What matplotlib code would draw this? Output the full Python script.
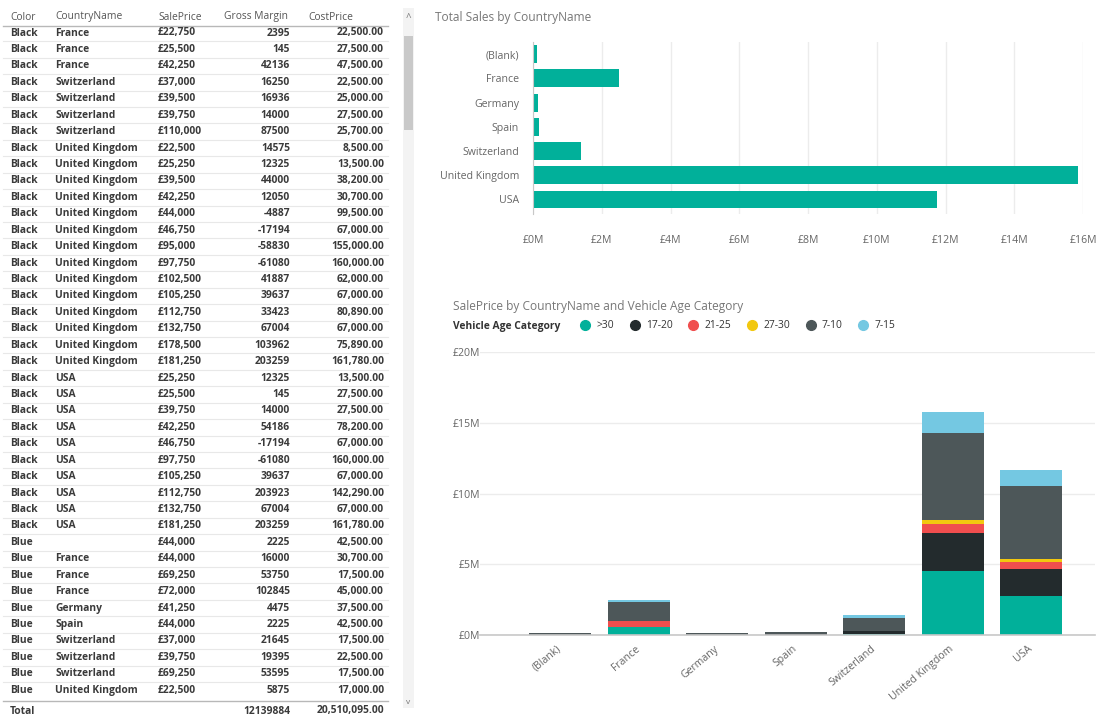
import matplotlib.pyplot as plt
from matplotlib.ticker import FuncFormatter

plt.rcParams['font.family'] = ['Open Sans', 'DejaVu Sans']

# table data
tbl_color = ['Black'] * 31 + ['Blue'] * 10
tbl_country = (['France'] * 3 + ['Switzerland'] * 4 + ['United Kingdom'] * 14 + ['USA'] * 10
               + ['', 'France', 'France', 'France', 'Germany', 'Spain',
                  'Switzerland', 'Switzerland', 'Switzerland', 'United Kingdom'])
tbl_sale = ['£22,750', '£25,500', '£42,250', '£37,000', '£39,500', '£39,750', '£110,000',
            '£22,500', '£25,250', '£39,500', '£42,250', '£44,000', '£46,750', '£95,000',
            '£97,750', '£102,500', '£105,250', '£112,750', '£132,750', '£178,500', '£181,250',
            '£25,250', '£25,500', '£39,750', '£42,250', '£46,750', '£97,750', '£105,250',
            '£112,750', '£132,750', '£181,250',
            '£44,000', '£44,000', '£69,250', '£72,000', '£41,250', '£44,000', '£37,000',
            '£39,750', '£69,250', '£22,500']
tbl_margin = ['2395', '145', '42136', '16250', '16936', '14000', '87500',
              '14575', '12325', '44000', '12050', '-4887', '-17194', '-58830',
              '-61080', '41887', '39637', '33423', '67004', '103962', '203259',
              '12325', '145', '14000', '54186', '-17194', '-61080', '39637',
              '203923', '67004', '203259',
              '2225', '16000', '53750', '102845', '4475', '2225', '21645',
              '19395', '53595', '5875']
tbl_cost = ['22,500.00', '27,500.00', '47,500.00', '22,500.00', '25,000.00', '27,500.00', '25,700.00',
            '8,500.00', '13,500.00', '38,200.00', '30,700.00', '99,500.00', '67,000.00', '155,000.00',
            '160,000.00', '62,000.00', '67,000.00', '80,890.00', '67,000.00', '75,890.00', '161,780.00',
            '13,500.00', '27,500.00', '27,500.00', '78,200.00', '67,000.00', '160,000.00', '67,000.00',
            '142,290.00', '67,000.00', '161,780.00',
            '42,500.00', '30,700.00', '17,500.00', '45,000.00', '37,500.00', '42,500.00', '17,500.00',
            '22,500.00', '17,500.00', '17,000.00']
total_margin = '12139884'
total_cost = '20,510,095.00'

# bar chart data (millions of pounds)
countries = ['(Blank)', 'France', 'Germany', 'Spain', 'Switzerland', 'United Kingdom', 'USA']
total_sales = [0.12, 2.5, 0.15, 0.18, 1.4, 15.85, 11.75]

age_cats = ['>30', '17-20', '21-25', '27-30', '7-10', '7-15']
age_colors = ['#01B09A', '#232B2D', '#F04E4E', '#F2C80F', '#4D5759', '#74C8E2']
sale_by_age = [
    [0, 0.56, 0, 0, 0.10, 4.52, 2.78],
    [0, 0, 0, 0.05, 0.18, 2.71, 1.85],
    [0, 0.40, 0, 0, 0, 0.58, 0.55],
    [0, 0, 0, 0, 0, 0.35, 0.19],
    [0.12, 1.37, 0.15, 0.15, 0.94, 6.13, 5.15],
    [0, 0.17, 0, 0, 0.17, 1.44, 1.11],
]

W, H = 1107, 717
fig = plt.figure(figsize=(W / 100, H / 100), dpi=100)

# ---- table drawn in pixel space ----
tx = fig.add_axes([0, 0, 1, 1])
tx.set_xlim(0, W)
tx.set_ylim(H, 0)
tx.axis('off')

hdr_c = '#555555'
txt_c = '#3a3a3a'
fs = 7.4
tx.text(10, 17, 'Color', fontsize=7.4, color=hdr_c, va='center')
tx.text(55, 17, 'CountryName', fontsize=7.4, color=hdr_c, va='center')
tx.text(158, 17, 'SalePrice', fontsize=7.4, color=hdr_c, va='center')
tx.text(288, 17, 'Gross Margin', fontsize=7.4, color=hdr_c, va='center', ha='right')
tx.text(308, 17, 'CostPrice', fontsize=7.4, color=hdr_c, va='center')
tx.plot([3, 388], [25.5, 25.5], color='#b8b8b8', lw=1)

row0, step = 33, 16.43
for i in range(len(tbl_color)):
    y = row0 + i * step
    tx.text(10, y, tbl_color[i], fontsize=fs, color=txt_c, va='center', fontweight='bold')
    tx.text(55, y, tbl_country[i], fontsize=fs, color=txt_c, va='center', fontweight='bold')
    tx.text(158, y, tbl_sale[i], fontsize=fs, color=txt_c, va='center', fontweight='bold')
    tx.text(290, y, tbl_margin[i], fontsize=fs, color=txt_c, va='center', ha='right', fontweight='bold')
    tx.text(384, y, tbl_cost[i], fontsize=fs, color=txt_c, va='center', ha='right', fontweight='bold')
    if i < len(tbl_color) - 1:
        tx.plot([3, 388], [y + step / 2, y + step / 2], color='#e8e8e8', lw=0.8)

ty = 711
tx.plot([3, 388], [701, 701], color='#b8b8b8', lw=1)
tx.text(10, ty, 'Total', fontsize=fs, color=txt_c, va='center', fontweight='bold')
tx.text(290, ty, total_margin, fontsize=fs, color=txt_c, va='center', ha='right', fontweight='bold')
tx.text(384, ty, total_cost, fontsize=fs, color=txt_c, va='center', ha='right', fontweight='bold')

# scrollbar
tx.add_patch(plt.Rectangle((403, 8), 11, 700, color='#f3f3f3', lw=0))
tx.add_patch(plt.Rectangle((404, 36), 9, 94, color='#c9c9c9', lw=0))
tx.text(408.5, 19, '^', fontsize=7, color='#777777', ha='center', va='center')
tx.text(408.5, 702, 'v', fontsize=6, color='#777777', ha='center', va='center')

# ---- top: horizontal bar chart ----
grid_c = '#ececec'
lab_c = '#666666'
ax1 = fig.add_axes([533 / W, 1 - 214 / H, 550 / W, 172 / H])
ypos = list(range(len(countries)))
ax1.barh(ypos, total_sales, height=0.74, color='#01B09A')
ax1.set_ylim(len(countries) - 0.5 + 0.1, -0.5)
ax1.set_xlim(0, 16)
ax1.set_xticks(range(0, 17, 2))
ax1.xaxis.set_major_formatter(FuncFormatter(lambda v, p: '£%dM' % v))
ax1.set_yticks(ypos)
ax1.set_yticklabels(countries)
ax1.tick_params(axis='both', length=0, labelsize=7.6, labelcolor=lab_c)
ax1.tick_params(axis='x', pad=15)
ax1.tick_params(axis='y', pad=10)
ax1.grid(axis='x', color=grid_c, lw=1)
ax1.set_axisbelow(True)
for s in ['top', 'right', 'bottom']:
    ax1.spines[s].set_visible(False)
ax1.spines['left'].set_color('#c8c8c8')
fig.text(435 / W, 1 - 18 / H, 'Total Sales by CountryName', fontsize=8.6, color='#777777', va='center')

# ---- bottom: stacked column chart ----
ax2 = fig.add_axes([480 / W, 1 - 635 / H, 615 / W, 283 / H])
xpos = list(range(len(countries)))
bottom = [0] * len(countries)
for cat, col, vals in zip(age_cats, age_colors, sale_by_age):
    ax2.bar(xpos, vals, bottom=bottom, width=0.79, color=col, label=cat)
    bottom = [b + v for b, v in zip(bottom, vals)]
ax2.set_xlim(-1.02, 6.815)
ax2.set_ylim(0, 20)
ax2.set_yticks([0, 5, 10, 15, 20])
ax2.yaxis.set_major_formatter(FuncFormatter(lambda v, p: '£%dM' % v))
ax2.set_xticks(xpos)
ax2.set_xticklabels(countries, rotation=40, ha='right', va='center', rotation_mode='anchor')
ax2.tick_params(axis='both', length=0, labelsize=7.6, labelcolor=lab_c)
ax2.tick_params(axis='x', pad=9)
ax2.tick_params(axis='y', pad=0)
ax2.grid(axis='y', color=grid_c, lw=1)
ax2.set_axisbelow(True)
for s in ['top', 'right', 'left']:
    ax2.spines[s].set_visible(False)
ax2.spines['bottom'].set_color('#c8c8c8')
ax2.spines['bottom'].set_linewidth(1.2)

fig.text(453 / W, 1 - 307 / H, 'SalePrice by CountryName and Vehicle Age Category',
         fontsize=8.6, color='#777777', va='center')
fig.text(453 / W, 1 - 326 / H, 'Vehicle Age Category', fontsize=7.4, color='#333333',
         va='center', fontweight='bold')
handles = [plt.Line2D([], [], marker='o', ls='', markersize=7, color=c) for c in age_colors]
fig.legend(handles, age_cats, loc='center left', bbox_to_anchor=(575 / W, 1 - 326 / H),
           ncol=6, frameon=False, fontsize=7.4, handletextpad=0.1, columnspacing=1.0,
           borderaxespad=0, borderpad=0, labelcolor='#333333')

fig.savefig('out.png', dpi=100)
